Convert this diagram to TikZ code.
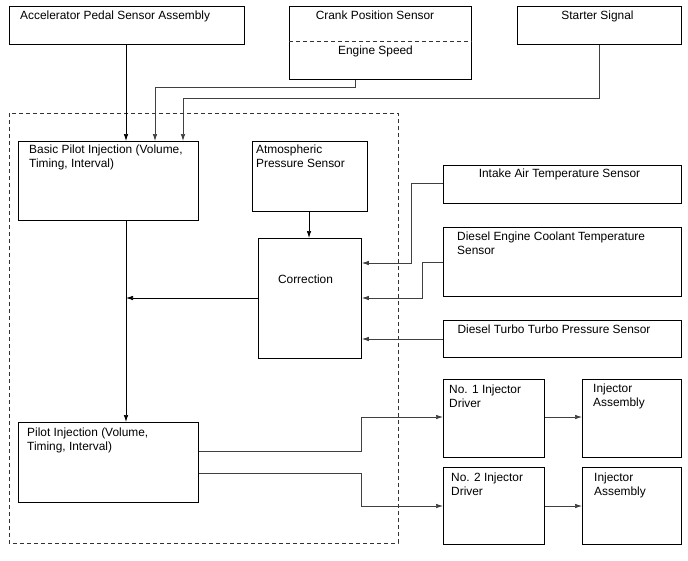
\documentclass[tikz,border=0pt]{standalone}
\usepackage{fontspec}
\setmainfont{Liberation Sans}
\usetikzlibrary{arrows.meta,calc}
\begin{document}
\begin{tikzpicture}[x=1pt,y=-1pt,
  box/.style={draw=black, line width=0.9pt, inner sep=0pt, anchor=north west},
  lbl/.style={inner sep=0pt, font=\fontsize{11.9}{14}\selectfont, align=left},
  clbl/.style={inner sep=0pt, font=\fontsize{11.9}{14}\selectfont, anchor=base},
  conn/.style={draw=black!75, line width=0.7pt, -{Latex[length=7pt,width=4.5pt]}},
  frame/.style={draw=black!80, line width=0.6pt, dash pattern=on 4pt off 3pt}]
\useasboundingbox (0,0) rectangle (688,560);
\fill[white] (0,0) rectangle (688,560);

% dashed frame
\draw[frame] (9,113) rectangle (398,543);

% boxes
\node[box, minimum width=235, minimum height=38] (accel) at (9,6) {};
\node[box, minimum width=182, minimum height=73] (crank) at (289,6) {};
\node[box, minimum width=164, minimum height=38] (starter) at (517,6) {};
\node[box, minimum width=180, minimum height=79] (basic) at (18,141) {};
\node[box, minimum width=115, minimum height=70] (atmos) at (252,141) {};
\node[box, minimum width=103, minimum height=120] (corr) at (258,238) {};
\node[box, minimum width=238, minimum height=38] (intake) at (443,165) {};
\node[box, minimum width=238, minimum height=69] (cool) at (443,227) {};
\node[box, minimum width=238, minimum height=37] (turbo) at (443,320) {};
\node[box, minimum width=180, minimum height=80] (pilot) at (18,422) {};
\node[box, minimum width=101, minimum height=78] (drv1) at (443,379) {};
\node[box, minimum width=99, minimum height=78] (inj1) at (582,379) {};
\node[box, minimum width=101, minimum height=77] (drv2) at (443,467) {};
\node[box, minimum width=99, minimum height=77] (inj2) at (582,467) {};

% dashed divider in crank box
\draw[frame] (crank.west |- 0,41) -- (crank.east |- 0,41);

% labels
\node[lbl, anchor=base west] (taccel) at (20,19) {Accelerator Pedal Sensor Assembly};
\node[clbl] (tcrank) at (375,19) {Crank Position Sensor};
\node[clbl] (tspeed) at (375.5,54) {Engine Speed};
\node[clbl] (tstart) at (597.5,19) {Starter Signal};
\node[lbl, anchor=base west] (tbasic) at (29,153) {Basic Pilot Injection (Volume,};
\node[lbl, anchor=base west] (tbasic2) at (29,167) {Timing, Interval)};
\node[lbl, anchor=base west] (tatm) at (256,153) {Atmospheric};
\node[lbl, anchor=base west] (tatm2) at (256,167) {Pressure Sensor};
\node[clbl] (tcorr) at (305.5,283) {Correction};
\node[clbl] (tint) at (559.5,177) {Intake Air Temperature Sensor};
\node[lbl, anchor=base west] (tcool) at (457,240) {Diesel Engine Coolant Temperature};
\node[lbl, anchor=base west] (tcool2) at (457,254) {Sensor};
\node[clbl] (tturbo) at (554,333) {Diesel Turbo Turbo Pressure Sensor};
\node[lbl, anchor=base west] (tpil) at (27,436) {Pilot Injection (Volume,};
\node[lbl, anchor=base west] (tpil2) at (27,450) {Timing, Interval)};
\node[lbl, anchor=base west] (td1) at (449,393) {No. 1 Injector};
\node[lbl, anchor=base west] (td1b) at (449,407) {Driver};
\node[lbl, anchor=base west] (ti1) at (593,392) {Injector};
\node[lbl, anchor=base west] (ti1b) at (593,406) {Assembly};
\node[lbl, anchor=base west] (td2) at (451,481) {No. 2 Injector};
\node[lbl, anchor=base west] (td2b) at (451,495) {Driver};
\node[lbl, anchor=base west] (ti2) at (594,481) {Injector};
\node[lbl, anchor=base west] (ti2b) at (594,495) {Assembly};

% junction coordinate on the vertical line
\coordinate (jn) at (126,298);

% connectors
\draw[conn, draw=black] (accel.south -| 126,0) -- (basic.north -| 126,0);
\draw[conn] (crank.south -| 355,0) -- (355,87) -- (155,87) -- (basic.north -| 155,0);
\draw[conn] (starter.south -| 599,0) -- (599,98) -- (183,98) -- (basic.north -| 183,0);
\draw[conn, draw=black] (atmos.south -| 309,0) -- (corr.north -| 309,0);
\draw[conn, draw=black] (basic.south -| 126,0) -- (pilot.north -| 126,0);
\draw[conn, draw=black] (corr.west |- jn) -- (jn);
\draw[conn] (intake.west |- 0,183) -- (411,183) -- (411,263) -- (corr.east |- 0,263);
\draw[conn] (cool.west |- 0,262) -- (422,262) -- (422,298) -- (corr.east |- 0,298);
\draw[conn] (turbo.west |- 0,339) -- (corr.east |- 0,339);
\draw[conn] (pilot.east |- 0,451) -- (361,451) -- (361,417) -- (drv1.west |- 0,417);
\draw[conn] (pilot.east |- 0,473) -- (361,473) -- (361,506) -- (drv2.west |- 0,506);
\draw[conn] (drv1.east |- 0,417) -- (inj1.west |- 0,417);
\draw[conn] (drv2.east |- 0,506) -- (inj2.west |- 0,506);
\end{tikzpicture}
\end{document}
